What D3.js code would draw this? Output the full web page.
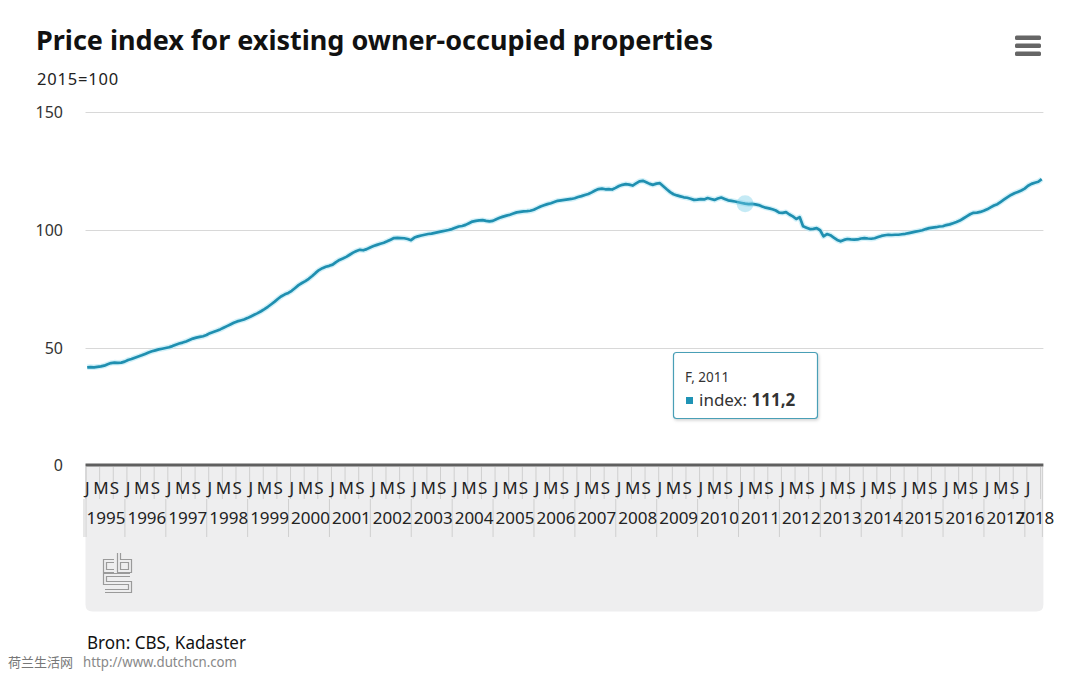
<!DOCTYPE html>
<html><head><meta charset="utf-8">
<script src="https://cdn.jsdelivr.net/npm/d3@7/dist/d3.min.js"></script>
<style>body{margin:0;background:#fff}svg{display:block}</style>
</head><body>
<svg id="chart" width="1066" height="677"></svg>
<script>
const title = "Price index for existing owner-occupied properties";
const subtitle = "2015=100";
const source = "Bron: CBS, Kadaster";
const watermarkCn = "荷兰生活网";
const watermarkUrl = "http://www.dutchcn.com";
const years = [1995,1996,1997,1998,1999,2000,2001,2002,2003,2004,2005,2006,2007,2008,2009,2010,2011,2012,2013,2014,2015,2016,2017,2018];
const monthInitials = ["J","F","M","A","M","J","J","A","S","O","N","D"];
const yTicks = [0,50,100,150];
const seriesName = "index";
// monthly index values, Jan 1995 .. May 2018
const values = [
 41.7,41.8,41.7,41.9,42.1,42.4,43.0,43.5,43.7,43.6,43.7,44.1,
 44.8,45.2,45.8,46.3,46.8,47.4,48.0,48.5,48.9,49.3,49.6,49.9,
 50.2,50.7,51.3,51.8,52.2,52.7,53.3,53.9,54.3,54.6,54.9,55.4,
 56.2,56.7,57.2,57.8,58.5,59.2,59.9,60.6,61.2,61.6,62.0,62.6,
 63.3,64.0,64.7,65.5,66.4,67.4,68.5,69.6,70.8,71.9,72.7,73.3,
 74.2,75.4,76.6,77.5,78.3,79.3,80.5,81.8,83.0,83.8,84.4,84.8,
 85.3,86.4,87.3,87.9,88.6,89.5,90.4,91.1,91.6,91.4,91.9,92.6,
 93.2,93.7,94.2,94.6,95.2,95.9,96.6,96.7,96.6,96.5,96.2,95.7,
 96.8,97.3,97.7,98.0,98.3,98.5,98.8,99.1,99.4,99.7,100.0,100.4,
 101.0,101.5,101.7,102.2,102.9,103.6,103.9,104.1,104.2,103.9,103.7,103.9,
 104.6,105.2,105.7,106.1,106.5,107.0,107.5,107.7,107.9,108.0,108.2,108.6,
 109.3,110.0,110.5,111.0,111.4,111.9,112.4,112.6,112.8,113.0,113.2,113.5,
 114.0,114.4,114.9,115.3,116.0,116.8,117.4,117.6,117.3,117.4,117.2,117.9,
 118.7,119.2,119.5,119.3,118.9,119.8,120.7,120.9,120.3,119.6,119.2,119.7,
 119.9,118.6,117.3,116.1,115.2,114.7,114.3,113.9,113.7,113.3,112.8,112.9,
 113.1,113.0,113.6,113.2,112.8,113.4,113.8,113.2,112.6,112.4,112.1,111.8,
 111.5,111.2,111.0,111.1,110.9,110.6,110.0,109.5,109.2,108.8,108.3,107.4,
 107.3,107.6,106.6,105.8,104.7,105.5,101.6,101.0,100.4,100.5,100.8,99.9,
 97.3,98.3,97.8,96.8,95.8,95.2,95.8,96.2,96.0,95.9,96.0,96.4,
 96.6,96.4,96.3,96.5,97.0,97.5,97.8,98.0,97.9,98.0,98.0,98.2,
 98.4,98.7,99.0,99.3,99.6,99.9,100.4,100.8,101.0,101.2,101.5,101.6,
 102.1,102.4,102.9,103.4,104.0,104.9,105.8,106.7,107.3,107.4,107.7,108.2,
 108.8,109.6,110.4,111.0,112.0,113.0,114.0,114.9,115.6,116.2,116.8,117.6,
 118.8,119.6,120.1,120.5,121.6
];
const hoverIndex = 193; // F, 2011

const data = values.map((v,i)=>({i, v, year: years[Math.floor(i/12)], month: monthInitials[i%12]}));

const svg = d3.select("#chart");
const font = "'Noto Sans', 'Open Sans', sans-serif";
const L = 85.5, R = 1043.4, T = 112.3, B = 465.5;

const x = d3.scaleBand().domain(data.map(d=>d.i)).range([L,R]).padding(0);
const y = d3.scaleLinear().domain([0,150]).range([B,T]);
const cx = i => x(i) + x.bandwidth()/2;

function fit(sel, w){ sel.each(function(){ const n=this.getComputedTextLength(); if(n>w){ d3.select(this).attr("textLength",w).attr("lengthAdjust","spacingAndGlyphs"); } }); }

// title
svg.append("text").attr("x",36).attr("y",50).attr("font-family",font).attr("font-weight","bold")
  .attr("font-size",27).attr("fill","#111").text(title).call(fit,677);
svg.append("text").attr("x",37).attr("y",85).attr("font-family",font).attr("font-size",16.5)
  .attr("letter-spacing",0.8).attr("fill","#222").text(subtitle);

// menu icon
const menu = svg.append("g").attr("fill","#666");
[35.5,43.5,51.5].forEach(yy=>menu.append("rect").attr("x",1015).attr("y",yy).attr("width",26).attr("height",4.5).attr("rx",1.5));

// x-axis area background
const bgTop = 466, bgBot = 611.5, rr = 7;
svg.append("path").attr("fill","#eeeeef")
  .attr("d",`M${L},${bgTop}H${R}V${bgBot-rr}Q${R},${bgBot} ${R-rr},${bgBot}H${L+rr}Q${L},${bgBot} ${L},${bgBot-rr}Z`);

// gridlines
svg.append("g").selectAll("line").data(yTicks.filter(t=>t>0)).join("line")
  .attr("x1",L).attr("x2",R).attr("y1",d=>Math.round(y(d))+0.5).attr("y2",d=>Math.round(y(d))+0.5)
  .attr("stroke","#d8d8d8").attr("stroke-width",1);

// y labels
svg.append("g").selectAll("text").data(yTicks).join("text")
  .attr("x",63).attr("y",d=>y(d)).attr("dy","0.36em").attr("text-anchor","end")
  .attr("font-family",font).attr("font-size",16).attr("fill","#333").text(d=>d);

// month tick lines (every 4 months)
const monthTicks = data.filter(d=>d.i%4===0);
svg.append("g").selectAll("line").data(monthTicks).join("line")
  .attr("x1",d=>x(d.i)+0.5).attr("x2",d=>x(d.i)+0.5).attr("y1",467).attr("y2",499)
  .attr("stroke","#cfcfcf").attr("stroke-width",1);
// year group lines
const yearStarts = years.map((yr,k)=>k*12);
svg.append("g").selectAll("line").data(yearStarts).join("line")
  .attr("x1",d=>x(d)-2+0.5).attr("x2",d=>x(d)-2+0.5).attr("y1",499).attr("y2",537)
  .attr("stroke","#cfcfcf").attr("stroke-width",1);
svg.append("line").attr("x1",L+0.5).attr("x2",L+0.5).attr("y1",467).attr("y2",537).attr("stroke","#cfcfcf");
svg.append("line").attr("x1",R-1).attr("x2",R-1).attr("y1",467).attr("y2",537).attr("stroke","#cfcfcf");

// month labels (labels that would overflow the plot edge are hidden)
svg.append("g").selectAll("text").data(monthTicks.filter(d=>cx(d.i)+6<R)).join("text")
  .attr("x",d=>cx(d.i)).attr("y",494).attr("text-anchor","middle")
  .attr("font-family",font).attr("font-size",17).attr("fill","#222").text(d=>d.month);
// year labels
svg.append("g").selectAll("text").data(years).join("text")
  .attr("x",(yr,k)=>{ const a=x(k*12); const lastI=Math.min(k*12+11,values.length-1); const b=x(lastI)+x.bandwidth(); return Math.min((a+b)/2, R-5); })
  .attr("y",524).attr("text-anchor","middle")
  .attr("font-family",font).attr("font-size",17).attr("fill","#222").text(d=>d);

// axis line
svg.append("line").attr("x1",L).attr("x2",R).attr("y1",465).attr("y2",465)
  .attr("stroke","#5f5f5f").attr("stroke-width",3);

// CBS logo
const logoPaths = ["M114,561H105V571H114","M119,553V571H130V561H119","M130,575H105V583H130V591H105"];
const logo = svg.append("g").attr("fill","none").attr("stroke-linejoin","miter").attr("stroke-linecap","butt");
logoPaths.forEach(p=>logo.append("path").attr("d",p).attr("stroke","#9a9a9a").attr("stroke-width",4.2));
logoPaths.forEach(p=>logo.append("path").attr("d",p).attr("stroke","#eeeeef").attr("stroke-width",1.8));

// line
const line = d3.line().x(d=>cx(d.i)).y(d=>y(d.v));
svg.append("path").datum(data).attr("d",line).attr("fill","none")
  .attr("stroke","#aee6f4").attr("stroke-width",5.5).attr("stroke-opacity",0.55).attr("stroke-linejoin","round");
svg.append("path").datum(data).attr("d",line).attr("fill","none")
  .attr("stroke","#1f8fb0").attr("stroke-width",2.7).attr("stroke-linejoin","round");

// hover marker
const hd = data[hoverIndex];
svg.append("circle").attr("cx",cx(hd.i)).attr("cy",y(hd.v)).attr("r",8.5)
  .attr("fill","#6fcbe6").attr("fill-opacity",0.4);

// tooltip
const defs = svg.append("defs");
const f = defs.append("filter").attr("id","sh").attr("x","-10%").attr("y","-10%").attr("width","130%").attr("height","140%");
f.append("feDropShadow").attr("dx",1).attr("dy",1.5).attr("stdDeviation",1.5).attr("flood-color","#000").attr("flood-opacity",0.18);
const tt = svg.append("g");
tt.append("rect").attr("x",673.5).attr("y",352.5).attr("width",144).attr("height",66).attr("rx",3)
  .attr("fill","#fff").attr("stroke","#4a9fb6").attr("stroke-width",1.2).attr("filter","url(#sh)");
tt.append("text").attr("x",685).attr("y",382).attr("font-family",font).attr("font-size",13.5).attr("fill","#333")
  .text(`${hd.month}, ${hd.year}`);
tt.append("rect").attr("x",686).attr("y",397).attr("width",7).attr("height",7).attr("fill","#1f93b5");
const t2 = tt.append("text").attr("x",699).attr("y",406).attr("font-family",font).attr("font-size",17).attr("fill","#333");
t2.append("tspan").text(`${seriesName}: `);
t2.append("tspan").attr("font-weight","bold").text(String(hd.v.toFixed(1)).replace(".",","));

// source
svg.append("text").attr("x",87).attr("y",649).attr("font-family",font).attr("font-size",18).attr("fill","#111")
  .text(source).call(fit,159);
svg.append("text").attr("x",8).attr("y",667).attr("font-family","'Noto Sans CJK SC', sans-serif").attr("font-size",13).attr("fill","#777")
  .text(watermarkCn).call(fit,70);
svg.append("text").attr("x",83).attr("y",667).attr("font-family",font).attr("font-size",13.5).attr("fill","#888")
  .text(watermarkUrl).call(fit,154);
</script>
</body></html>
